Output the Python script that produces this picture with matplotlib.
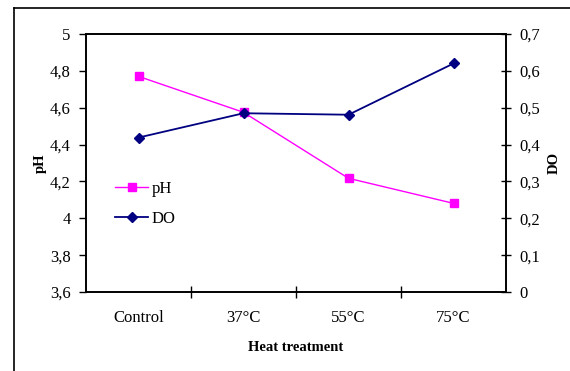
import matplotlib.pyplot as plt
from matplotlib.lines import Line2D
from matplotlib.ticker import FuncFormatter, FixedLocator

plt.rcParams['font.family'] = ['Liberation Serif', 'DejaVu Serif']

treatments = ['Control', '37°C', '55°C', '75°C']
ph = [4.77, 4.575, 4.217, 4.081]
do = [0.419, 0.485, 0.481, 0.620]

ph_ticks = [3.6, 3.8, 4.0, 4.2, 4.4, 4.6, 4.8, 5.0]
do_ticks = [0, 0.1, 0.2, 0.3, 0.4, 0.5, 0.6, 0.7]


def comma(v, pos=None):
    s = ('%.1f' % v).rstrip('0').rstrip('.')
    return s.replace('.', ',')


fig = plt.figure(figsize=(5.70, 3.71), dpi=100)
ax = fig.add_axes([86 / 570, 79 / 371, 420 / 570, 258 / 371])
ax2 = ax.twinx()

x = list(range(len(treatments)))
l1, = ax.plot(x, ph, color='#FF00FF', lw=1.0, marker='s', ms=6,
              mec='#FF00FF', mfc='#FF00FF', label='pH', zorder=3)
l2, = ax2.plot(x, do, color='#000080', lw=1.3, marker='D', ms=5.5,
               mec='#000080', mfc='#000080', label='DO', zorder=3)

ax.set_xlim(-0.5, 3.5)
ax.set_ylim(3.6, 5.0)
ax2.set_ylim(0, 0.7)

ax.set_yticks(ph_ticks)
ax.yaxis.set_major_formatter(FuncFormatter(comma))
ax2.set_yticks(do_ticks)
ax2.yaxis.set_major_formatter(FuncFormatter(comma))

# category boundaries get the ticks, labels sit between them
ax.xaxis.set_major_locator(FixedLocator([0.5, 1.5, 2.5]))
ax.xaxis.set_minor_locator(FixedLocator(x))
ax.set_xticklabels([])
ax.set_xticklabels(treatments, minor=True)
ax.tick_params(axis='x', which='major', direction='inout', length=8, width=1)
ax.tick_params(axis='x', which='minor', length=0, pad=13, labelsize=12)

ax.tick_params(axis='y', direction='out', length=5, width=1, pad=6, labelsize=12)
ax2.tick_params(axis='y', direction='inout', length=7, width=1, pad=6, labelsize=12)

for a in (ax, ax2):
    for sp in a.spines.values():
        sp.set_linewidth(1.2)

ax.set_ylabel('pH', fontsize=10.5, fontweight='bold')
ax.yaxis.set_label_coords(-0.093, 0.5)
ax2.set_ylabel('DO', fontsize=10.5, fontweight='bold')
ax2.yaxis.set_label_coords(1.1, 0.5)
ax.set_xlabel('Heat treatment', fontsize=10.5, fontweight='bold')
ax.xaxis.set_label_coords(0.5, -0.19)

ax2.legend(handles=[l1, l2], loc='upper left', bbox_to_anchor=(0.033, 0.49),
           frameon=False, fontsize=12, handlelength=2.0, handletextpad=0.2,
           labelspacing=0.85)

# chart border
fig.add_artist(Line2D([14 / 570, 14 / 570], [0, 1 - 8 / 371], transform=fig.transFigure,
                      color='black', lw=1.2))
fig.add_artist(Line2D([14 / 570, 1], [1 - 8 / 371, 1 - 8 / 371], transform=fig.transFigure,
                      color='black', lw=1.2))

fig.savefig('out.png', dpi=100)
